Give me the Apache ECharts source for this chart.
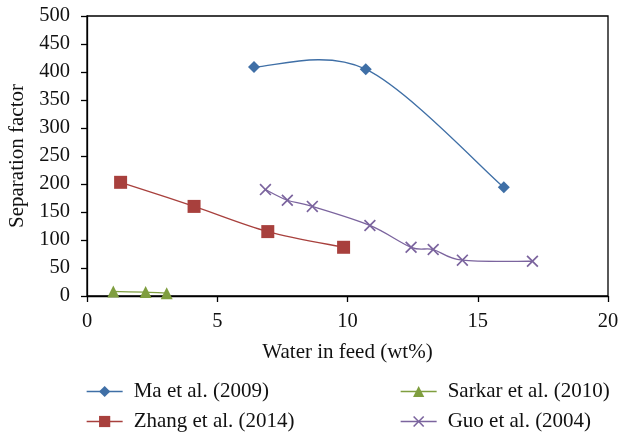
<!DOCTYPE html>
<html>
<head>
<meta charset="utf-8">
<script src="https://cdn.jsdelivr.net/npm/echarts@6/dist/echarts.min.js"></script>
<style>html,body{margin:0;padding:0;background:#fff}#c{width:619px;height:434px}</style>
</head>
<body>
<div id="c"></div>
<script>
var seriesNames = ['Ma et al. (2009)', 'Zhang et al. (2014)', 'Sarkar et al. (2010)', 'Guo et al. (2004)'];
var maData = [[6.41, 409], [10.7, 405], [16.0, 194]];
var zhangData = [[1.29, 203], [4.11, 160], [6.94, 115], [9.85, 87]];
var sarkarData = [[1.01, 8], [2.25, 7], [3.06, 5]];
var guoData = [[6.85, 190], [7.69, 171], [8.65, 160], [10.86, 126], [12.44, 87], [13.29, 83], [14.41, 64], [17.1, 62]];
var xTicks = [0, 5, 10, 15, 20];
var yTicks = [0, 50, 100, 150, 200, 250, 300, 350, 400, 450, 500];

var FONT = 'Liberation Serif';
var colors = ['#3F6FA6', '#A8403D', '#7F9E3F', '#7B649E'];
var crossPath = 'path://M0,1 L1,0 L5,4 L9,0 L10,1 L6,5 L10,9 L9,10 L5,6 L1,10 L0,9 L4,5 Z';
var allData = [maData, zhangData, sarkarData, guoData];
var symbols = ['diamond', 'rect', 'triangle', crossPath];
var symbolSizes = [12, 13, 12, 12];

// Smoothed curve (spreadsheet-style Bezier) drawn through the data via the axis scales
function curveRenderer(points, color) {
  return function (params, api) {
    if (params.dataIndex !== 0) return null;
    var p = points.map(function (d) { return api.coord(d); });
    var n = p.length;
    var path = 'M' + p[0][0] + ' ' + p[0][1];
    for (var i = 0; i < n - 1; i++) {
      var p0 = p[Math.max(i - 1, 0)], p1 = p[i], p2 = p[i + 1], p3 = p[Math.min(i + 2, n - 1)];
      var c1x = p1[0] + (p2[0] - p0[0]) / 6, c1y = p1[1] + (p2[1] - p0[1]) / 6;
      var c2x = p2[0] - (p3[0] - p1[0]) / 6, c2y = p2[1] - (p3[1] - p1[1]) / 6;
      path += ' C' + c1x + ' ' + c1y + ' ' + c2x + ' ' + c2y + ' ' + p2[0] + ' ' + p2[1];
    }
    return {type: 'path', shape: {pathData: path}, style: {stroke: color, lineWidth: 1.3, fill: 'none'}};
  };
}

var series = [];
allData.forEach(function (d, i) {
  series.push({type: 'custom', data: d, renderItem: curveRenderer(d, colors[i]), z: 1, silent: true, encode: {x: 0, y: 1}});
});
allData.forEach(function (d, i) {
  series.push({name: seriesNames[i], type: 'line', data: d, symbol: symbols[i], symbolSize: symbolSizes[i], z: 3,
    lineStyle: {width: 1.3, color: colors[i], opacity: 0}, itemStyle: {color: colors[i]}});
});

var chart = echarts.init(document.getElementById('c'), null, {renderer: 'canvas'});
var legendCommon = {
  orient: 'vertical',
  padding: 0,
  itemWidth: 36,
  itemHeight: 14,
  itemGap: 9,
  height: 60,
  lineStyle: {opacity: 1, width: 1.3},
  textStyle: {fontFamily: FONT, fontSize: 21, color: '#111', lineHeight: 20, padding: [0, 0, 0, 6]}
};
chart.setOption({
  animation: false,
  color: colors,
  grid: {left: 87, right: 11, top: 16, bottom: 138, outerBoundsMode: 'none', containLabel: false,
         show: true, borderColor: '#000', borderWidth: 1.3, backgroundColor: 'transparent'},
  legend: [
    Object.assign({data: [seriesNames[0], seriesNames[1]], left: 86, top: 381}, legendCommon),
    Object.assign({data: [seriesNames[2], seriesNames[3]], left: 400, top: 381}, legendCommon)
  ],
  xAxis: {
    type: 'value', min: xTicks[0], max: xTicks[xTicks.length - 1], interval: 5,
    name: 'Water in feed (wt%)', nameLocation: 'middle', nameGap: 46,
    nameTextStyle: {fontFamily: FONT, fontSize: 21, color: '#111'},
    axisLine: {lineStyle: {color: '#000', width: 1.3}},
    axisTick: {show: true, length: 6, lineStyle: {color: '#000', width: 1.3}},
    axisLabel: {fontFamily: FONT, fontSize: 20.5, color: '#111', margin: 15},
    splitLine: {show: false}
  },
  yAxis: {
    type: 'value', min: yTicks[0], max: yTicks[yTicks.length - 1], interval: 50,
    name: 'Separation factor', nameLocation: 'middle', nameGap: 59,
    nameTextStyle: {fontFamily: FONT, fontSize: 21, color: '#111'},
    axisLine: {show: true, lineStyle: {color: '#000', width: 1.3}},
    axisTick: {show: true, length: 6, lineStyle: {color: '#000', width: 1.3}},
    axisLabel: {fontFamily: FONT, fontSize: 20.5, color: '#111', margin: 17},
    splitLine: {show: false}
  },
  series: series
});
</script>
</body>
</html>
